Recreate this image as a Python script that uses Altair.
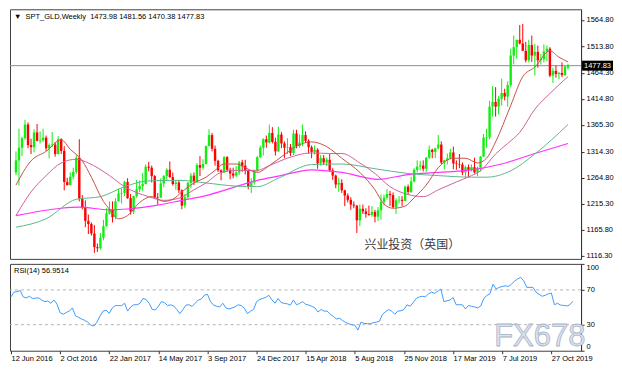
import altair as alt
import pandas as pd

# ---------------- weekly OHLC (week 0 = 12 Jun 2016) ----------------
opens = [
    # 2016
    1275, 1298, 1322, 1340, 1366, 1327, 1323, 1351, 1335, 1336, 1341, 1321, 1327, 1328, 1310,
    1338, 1316, 1257, 1251, 1267, 1276, 1303, 1225, 1208, 1183, 1177, 1159, 1133, 1131,
    # 2017
    1151, 1173, 1197, 1205, 1190, 1220, 1235, 1236, 1257, 1226, 1201, 1230, 1243,
    1249, 1253, 1286, 1284, 1268, 1228, 1227, 1254, 1268, 1280, 1266, 1253, 1256,
    1241, 1212, 1228, 1255, 1269, 1258, 1289, 1284, 1291, 1325, 1346, 1320, 1297,
    1279, 1275, 1304, 1280, 1273, 1269, 1275, 1294, 1288, 1279, 1248, 1256, 1278,
    # 2018
    1304, 1322, 1338, 1332, 1350, 1333, 1315, 1347, 1330, 1322, 1323, 1312, 1349,
    1325, 1332, 1346, 1335, 1323, 1314, 1318, 1292, 1302, 1294, 1299, 1279, 1269,
    1252, 1255, 1241, 1231, 1223, 1214, 1212, 1184, 1206, 1201, 1196, 1194, 1200, 1191,
    1203, 1219, 1227, 1234, 1232, 1209, 1222, 1223, 1221, 1248, 1238, 1258,
    # 2019
    1280, 1286, 1288, 1282, 1303, 1318, 1314, 1321, 1328, 1294, 1298, 1302, 1313, 1292,
    1291, 1290, 1275, 1285, 1280, 1285, 1275, 1284, 1305, 1341, 1342, 1400, 1409,
    1400, 1415, 1426, 1419, 1441, 1497, 1513, 1527, 1520, 1506, 1488, 1517, 1497,
    1504, 1488, 1490, 1505, 1510, 1459, 1468, 1462, 1464, 1460, 1473.98,
]
highs = [
    1315, 1358, 1343, 1375, 1370, 1339, 1357, 1367, 1353, 1358, 1345, 1330, 1352, 1333, 1344,
    1340, 1325, 1265, 1275, 1284, 1308, 1338, 1232, 1222, 1195, 1180, 1175, 1140, 1160,
    1185, 1207, 1220, 1220, 1226, 1244, 1245, 1259, 1264, 1234, 1231, 1261, 1260,
    1274, 1290, 1295, 1288, 1270, 1236, 1264, 1270, 1283, 1296, 1275, 1260, 1260,
    1243, 1234, 1257, 1274, 1275, 1293, 1306, 1300, 1326, 1357, 1350, 1326, 1299,
    1281, 1306, 1306, 1284, 1284, 1287, 1297, 1299, 1299, 1280, 1264, 1279, 1306,
    1326, 1340, 1345, 1366, 1361, 1341, 1362, 1352, 1334, 1340, 1329, 1356, 1356,
    1347, 1366, 1353, 1338, 1326, 1326, 1321, 1308, 1308, 1303, 1310, 1283, 1271,
    1265, 1262, 1242, 1235, 1228, 1220, 1213, 1214, 1214, 1207, 1212, 1211, 1204, 1209,
    1233, 1233, 1243, 1240, 1237, 1226, 1230, 1230, 1250, 1252, 1267, 1283,
    1298, 1297, 1298, 1304, 1326, 1320, 1322, 1346, 1334, 1299, 1311, 1320, 1324, 1298,
    1310, 1294, 1288, 1290, 1290, 1303, 1286, 1306, 1348, 1358, 1411, 1439, 1437,
    1420, 1453, 1434, 1448, 1510, 1535, 1527, 1555, 1557, 1523, 1527, 1535, 1519,
    1516, 1500, 1518, 1516, 1513, 1474, 1478, 1466, 1484, 1479, 1481.56,
]
lows = [
    1270, 1250, 1306, 1337, 1321, 1310, 1313, 1334, 1330, 1333, 1316, 1302, 1323, 1305, 1309,
    1310, 1241, 1250, 1250, 1262, 1272, 1220, 1205, 1171, 1158, 1155, 1122, 1124, 1128,
    1146, 1172, 1195, 1180, 1186, 1220, 1216, 1230, 1225, 1195, 1196, 1227, 1238,
    1240, 1252, 1277, 1256, 1226, 1214, 1227, 1247, 1259, 1265, 1250, 1242, 1236,
    1205, 1207, 1225, 1245, 1251, 1256, 1268, 1280, 1290, 1325, 1315, 1288, 1276,
    1260, 1274, 1276, 1262, 1264, 1266, 1270, 1276, 1271, 1243, 1236, 1252, 1276,
    1302, 1307, 1322, 1330, 1330, 1307, 1314, 1321, 1302, 1310, 1306, 1308, 1321,
    1322, 1325, 1331, 1311, 1302, 1309, 1282, 1288, 1289, 1287, 1276, 1261, 1245,
    1238, 1236, 1211, 1218, 1204, 1207, 1160, 1173, 1196, 1189, 1193, 1191, 1180, 1183,
    1185, 1212, 1223, 1211, 1207, 1196, 1216, 1211, 1221, 1233, 1236, 1256,
    1275, 1279, 1277, 1276, 1301, 1302, 1302, 1319, 1291, 1281, 1290, 1300, 1281, 1280,
    1283, 1270, 1266, 1266, 1277, 1273, 1268, 1277, 1305, 1322, 1338, 1381, 1381,
    1385, 1402, 1412, 1400, 1437, 1480, 1491, 1518, 1506, 1484, 1484, 1485, 1459,
    1474, 1480, 1484, 1486, 1456, 1445, 1455, 1452, 1456, 1458, 1470.38,
]
closes = [
    1298, 1322, 1340, 1366, 1327, 1323, 1351, 1335, 1336, 1341, 1321, 1327, 1328, 1310, 1338,
    1316, 1257, 1251, 1267, 1276, 1303, 1225, 1208, 1183, 1177, 1159, 1133, 1131, 1151,
    1173, 1197, 1205, 1190, 1220, 1235, 1236, 1257, 1226, 1201, 1230, 1243, 1249,
    1253, 1286, 1284, 1268, 1228, 1227, 1254, 1268, 1280, 1266, 1253, 1256, 1241,
    1212, 1228, 1255, 1269, 1258, 1289, 1284, 1291, 1325, 1346, 1320, 1297, 1279,
    1275, 1304, 1280, 1273, 1269, 1275, 1294, 1288, 1279, 1248, 1256, 1278, 1304,
    1322, 1338, 1332, 1350, 1333, 1315, 1347, 1330, 1322, 1323, 1312, 1349, 1325,
    1332, 1346, 1335, 1323, 1314, 1318, 1292, 1302, 1294, 1299, 1279, 1269, 1252,
    1255, 1241, 1231, 1223, 1214, 1212, 1184, 1206, 1201, 1196, 1194, 1200, 1191, 1203,
    1219, 1227, 1234, 1232, 1209, 1222, 1223, 1221, 1248, 1238, 1258, 1280,
    1286, 1288, 1282, 1303, 1318, 1314, 1321, 1328, 1294, 1298, 1302, 1313, 1292, 1291,
    1290, 1275, 1285, 1280, 1285, 1275, 1284, 1305, 1341, 1342, 1400, 1409, 1400,
    1415, 1426, 1419, 1441, 1497, 1513, 1527, 1520, 1506, 1488, 1517, 1497, 1504,
    1488, 1490, 1505, 1510, 1459, 1468, 1462, 1464, 1460, 1476, 1477.83,
]

# ---------------- moving averages (week, value) ----------------
ma10_w = [0, 5, 10, 15, 18, 22, 25, 29, 31, 34, 37, 41, 45, 49, 52, 55, 59, 63, 66, 69, 73, 76, 80,
          84, 89, 95, 98, 103, 108, 114, 119, 122, 125, 129, 132, 136, 140, 145, 149, 153, 156,
          159, 164, 168, 172, 177, 180, 183]
ma10_v = [1251, 1297, 1315, 1337, 1319, 1297, 1266, 1220, 1205, 1187, 1193, 1218, 1229, 1220,
          1224, 1238, 1255, 1266, 1279, 1291, 1291, 1284, 1275, 1288, 1309, 1330, 1333, 1324,
          1302, 1275, 1242, 1215, 1207, 1211, 1227, 1251, 1284, 1302, 1302, 1293, 1302, 1333,
          1402, 1457, 1475, 1506, 1494, 1485]
ma30_w = [0, 5, 10, 15, 20, 24, 31, 36, 44, 49, 54, 59, 63, 68, 73, 80, 84, 89, 98, 104, 108, 114,
          119, 124, 130, 135, 140, 146, 151, 154, 159, 163, 167, 172, 177, 183]
ma30_v = [1193, 1238, 1269, 1293, 1300, 1293, 1269, 1248, 1229, 1222, 1226, 1242, 1255, 1275,
          1279, 1279, 1288, 1300, 1312, 1311, 1311, 1293, 1273, 1248, 1233, 1229, 1242, 1257,
          1269, 1278, 1310, 1330, 1351, 1395, 1425, 1457]
ma50_w = [0, 10, 20, 28, 36, 44, 54, 63, 73, 80, 87, 98, 108, 119, 130, 140, 151, 156, 164, 172, 183]
ma50_v = [1171, 1187, 1224, 1229, 1248, 1259, 1260, 1255, 1249, 1248, 1264, 1290, 1291, 1282,
          1273, 1269, 1266, 1266, 1278, 1310, 1366]
ma100_w = [0, 15, 21, 31, 38, 47, 55, 63, 73, 80, 87, 98, 108, 120, 130, 140, 151, 161, 172, 183]
ma100_v = [1193, 1207, 1209, 1204, 1206, 1213, 1222, 1231, 1248, 1260, 1268, 1280, 1275, 1262,
           1271, 1275, 1280, 1291, 1311, 1330]

# ---------------- RSI(14), one value per week ----------------
rsi = [
    62.0, 67.5, 68.0, 69.3, 62.0, 60.8, 62.7, 60.2, 60.5, 60.9,
    58.4, 56.5, 57.3, 54.7, 58.4, 53.5, 43.8, 42.0, 44.0, 45.6,
    49.3, 40.2, 38.5, 36.5, 35.0, 32.9, 29.5, 28.5, 32.9, 40.0,
    45.6, 46.7, 43.1, 49.3, 52.0, 52.0, 51.8, 54.7, 45.6, 50.5,
    52.9, 52.9, 54.5, 60.2, 59.0, 54.7, 47.5, 47.0, 51.1, 56.5,
    55.5, 52.0, 52.9, 51.5, 47.5, 42.7, 47.5, 52.5, 52.9, 51.0,
    54.7, 58.4, 59.5, 64.0, 64.9, 56.5, 52.5, 51.1, 50.4, 54.7,
    49.3, 48.0, 49.3, 50.5, 52.9, 52.0, 49.0, 42.7, 45.5, 47.5,
    56.5, 59.0, 60.2, 61.5, 63.8, 58.5, 54.7, 60.2, 55.5, 54.5,
    54.0, 52.5, 58.4, 52.9, 54.5, 56.5, 53.5, 52.5, 51.1, 49.3,
    44.5, 47.5, 45.6, 45.6, 42.0, 39.5, 36.5, 37.5, 34.7, 32.5,
    31.1, 30.0, 29.3, 23.8, 32.9, 31.5, 31.1, 31.1, 32.2, 32.9,
    34.0, 42.0, 45.0, 47.5, 45.6, 42.0, 45.6, 46.0, 47.5, 52.9,
    51.1, 55.5, 60.2, 62.0, 62.7, 62.0, 65.5, 67.5, 66.0, 68.5,
    71.1, 56.5, 57.5, 58.4, 61.3, 52.9, 53.0, 52.9, 48.2, 52.0,
    51.1, 50.4, 49.3, 51.5, 60.2, 63.5, 65.6, 76.5, 71.1, 72.9,
    74.0, 74.7, 74.0, 76.5, 80.2, 82.5, 84.5, 80.5, 72.9, 72.9,
    73.0, 67.5, 65.0, 62.7, 63.8, 65.5, 66.4, 52.9, 54.7, 52.5,
    52.2, 51.5, 52.9, 56.95,
]

# ---------------- ticks / labels / texts ----------------
price_ticks = [1116.30, 1165.80, 1215.30, 1264.80, 1314.30, 1365.30, 1414.80, 1464.30, 1513.80, 1564.80]
rsi_ticks = [0, 30, 70, 100]
rsi_levels = [30, 70]
date_ticks = [0, 16, 32, 48, 64, 80, 96, 112, 128, 144, 160, 176]
date_labels = ["12 Jun 2016", "2 Oct 2016", "22 Jan 2017", "14 May 2017", "3 Sep 2017",
               "24 Dec 2017", "15 Apr 2018", "5 Aug 2018", "25 Nov 2018", "17 Mar 2019",
               "7 Jul 2019", "27 Oct 2019"]
last_price = 1477.83
NB = "\u00a0"
header = "\u25bc" + NB * 2 + "SPT_GLD,Weekly" + NB * 2 + "1473.98 1481.56 1470.38 1477.83"
rsi_header = "RSI(14) 56.9514"
watermark_cn = "兴业投资（英国）"
watermark_fx = "FX678"

# ---------------- layout ----------------
W, H1, H2 = 572, 250, 87
FONT = "Liberation Sans"
xdom = [-0.32, 185.67]
pdom = [1110.8, 1584.9]

xscale = alt.Scale(domain=xdom, nice=False, zero=False)
yscale = alt.Scale(domain=pdom, nice=False, zero=False)
yaxis = alt.Axis(orient="right", values=price_ticks, format=".2f", title=None,
                 labelOverlap=False, tickSize=3, labelPadding=2)
x_noaxis = alt.X("week:Q", scale=xscale, axis=None)

candles = pd.DataFrame({"week": list(range(len(closes))), "open": opens,
                        "high": highs, "low": lows, "close": closes})
cbase = alt.Chart(candles).transform_calculate(
    dir="datum.close >= datum.open ? 'up' : 'down'")
ccolor = alt.Color("dir:N", scale=alt.Scale(domain=["up", "down"], range=["#10ee10", "#ff0000"]),
                   legend=None)
wicks = cbase.mark_rule(strokeWidth=1).encode(
    x=x_noaxis, y=alt.Y("low:Q", scale=yscale, axis=yaxis), y2="high:Q", color=ccolor)
bodies = cbase.mark_bar(size=2.4).encode(
    x=x_noaxis, y=alt.Y("open:Q", scale=yscale, axis=yaxis), y2="close:Q", color=ccolor)


def ma_line(ws, vs, color, width=1.0):
    d = pd.DataFrame({"week": ws, "v": vs})
    return alt.Chart(d).mark_line(color=color, strokeWidth=width, interpolate="monotone").encode(
        x=x_noaxis, y=alt.Y("v:Q", scale=yscale, axis=yaxis))


lp = pd.DataFrame({"p": [last_price], "t": [f"{last_price:.2f}"]})
price_rule = alt.Chart(lp).mark_rule(color="#8291a6", strokeWidth=1).encode(
    y=alt.Y("p:Q", scale=yscale, axis=yaxis))
price_box = alt.Chart(lp).mark_tick(orient="horizontal", color="black", size=31, thickness=10,
                                    opacity=1).encode(
    x=alt.value(W + 16.5), y=alt.Y("p:Q", scale=yscale, axis=yaxis))
price_txt = alt.Chart(lp).mark_text(color="white", font=FONT, fontSize=7.5, align="center",
                                    baseline="middle").encode(
    x=alt.value(W + 16.5), y=alt.Y("p:Q", scale=yscale, axis=yaxis), text="t:N")

head = alt.Chart(pd.DataFrame({"t": [header]})).mark_text(
    align="left", baseline="middle", font=FONT, fontSize=7.5, color="black").encode(
    x=alt.value(4), y=alt.value(8), text="t:N")
wm_cn = alt.Chart(pd.DataFrame({"t": [watermark_cn]})).mark_text(
    align="left", baseline="middle", font="Noto Sans CJK SC", fontSize=12, color="#3a3a3a").encode(
    x=alt.value(355), y=alt.value(236), text="t:N")

price_panel = alt.layer(
    price_rule, wicks, bodies,
    ma_line(ma100_w, ma100_v, "#ff33ff", 1.2),
    ma_line(ma50_w, ma50_v, "#5cb88a"),
    ma_line(ma30_w, ma30_v, "#d0609f"),
    ma_line(ma10_w, ma10_v, "#c9504c"),
    head, wm_cn, price_box, price_txt,
).properties(width=W, height=H1)

# ---------------- RSI panel ----------------
rscale = alt.Scale(domain=[0, 100], nice=False, zero=False)
raxis = alt.Axis(orient="right", values=rsi_ticks, title=None, labelFlush=True,
                 tickSize=3, labelPadding=2)
label_expr = "[" + ",".join(f"'{s}'" for s in date_labels) + "][round(datum.value / 16)]"
xaxis = alt.Axis(values=date_ticks, labelExpr=label_expr, labelAlign="left", title=None,
                 tickSize=3, labelPadding=1, domain=False, labelOverlap=False, labelFlush=False)

rsi_df = pd.DataFrame({"week": list(range(len(rsi))), "rsi": rsi})
levels = alt.Chart(pd.DataFrame({"lvl": rsi_levels})).mark_rule(
    color="#b4b4b4", strokeDash=[3, 3], strokeWidth=1).encode(
    y=alt.Y("lvl:Q", scale=rscale, axis=raxis))
rsi_line = alt.Chart(rsi_df).mark_line(color="#3d9bff", strokeWidth=1).encode(
    x=alt.X("week:Q", scale=xscale, axis=xaxis),
    y=alt.Y("rsi:Q", scale=rscale, axis=raxis))
rsi_head = alt.Chart(pd.DataFrame({"t": [rsi_header]})).mark_text(
    align="left", baseline="middle", font=FONT, fontSize=7.5, color="black").encode(
    x=alt.value(4), y=alt.value(7), text="t:N")
wm_fx = alt.Chart(pd.DataFrame({"t": [watermark_fx]})).mark_text(
    align="left", baseline="alphabetic", font=FONT, fontSize=31, color="#dbe3f1",
    stroke="#a9b3c4", strokeWidth=0.8).encode(
    x=alt.value(485), y=alt.value(82.5), text="t:N")

rsi_panel = alt.layer(levels, wm_fx, rsi_line, rsi_head).properties(width=W, height=H2)

chart = alt.vconcat(price_panel, rsi_panel, spacing=2).properties(
    padding={"left": 0, "top": 0, "right": 0, "bottom": 0}
).configure_view(stroke="#404040", strokeWidth=1).configure_axis(
    labelFont=FONT, labelFontSize=7.5, labelColor="black", tickColor="#333333",
    domainColor="#333333", grid=False
)

chart.save("out.html", embed_options={"renderer": "svg", "actions": False})
